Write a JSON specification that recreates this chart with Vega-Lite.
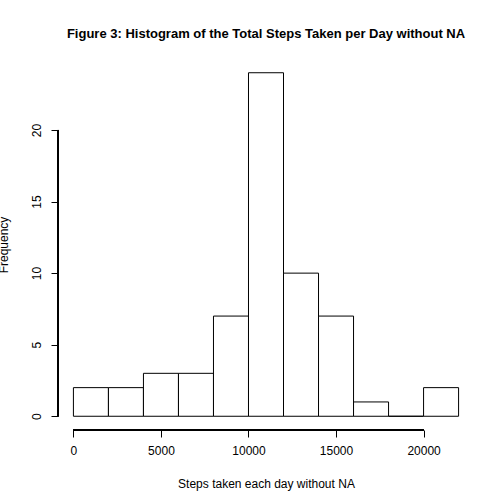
{
  "$schema": "https://vega.github.io/schema/vega-lite/v6.json",
  "autosize": "none",
  "width": 416,
  "height": 371,
  "padding": {"left": 58, "top": 59, "right": 30, "bottom": 74},
  "background": "white",
  "config": {"view": {"stroke": null}, "font": "Liberation Sans"},
  "title": {"text": "Figure 3: Histogram of the Total Steps Taken per Day without NA", "fontSize": 13, "fontWeight": "bold", "color": "black", "offset": 18, "anchor": "middle"},
  "data": {"values": [
    {"start": 0, "end": 2000, "count": 2, "base": 0},
    {"start": 2000, "end": 4000, "count": 2, "base": 0},
    {"start": 4000, "end": 6000, "count": 3, "base": 0},
    {"start": 6000, "end": 8000, "count": 3, "base": 0},
    {"start": 8000, "end": 10000, "count": 7, "base": 0},
    {"start": 10000, "end": 12000, "count": 24, "base": 0},
    {"start": 12000, "end": 14000, "count": 10, "base": 0},
    {"start": 14000, "end": 16000, "count": 7, "base": 0},
    {"start": 16000, "end": 18000, "count": 1, "base": 0},
    {"start": 18000, "end": 20000, "count": 0, "base": 0},
    {"start": 20000, "end": 22000, "count": 2, "base": 0}
  ]},
  "layer": [
    {
      "mark": {"type": "rect", "fill": "white", "stroke": "black", "strokeWidth": 1},
      "encoding": {
        "x": {"field": "start", "type": "quantitative", "scale": {"domain": [-880, 22880], "nice": false, "zero": false},
          "axis": {"values": [0, 5000, 10000, 15000, 20000], "domain": false, "grid": false, "tickColor": "black", "tickSize": 7, "labelColor": "black", "labelFontSize": 12, "labelPadding": 8, "format": "d", "title": "Steps taken each day without NA", "titleFontWeight": "normal", "titleFontSize": 12, "titleColor": "black", "titlePadding": 22}},
        "x2": {"field": "end"},
        "y": {"field": "count", "type": "quantitative", "scale": {"domain": [-0.96, 24.96], "nice": false, "zero": false},
          "axis": {"values": [0, 5, 10, 15, 20], "domain": false, "grid": false, "tickColor": "black", "tickSize": 7, "labelColor": "black", "labelFontSize": 12, "labelAngle": -90, "labelAlign": "center", "labelBaseline": "bottom", "labelPadding": 8, "title": "Frequency", "titleFontWeight": "normal", "titleFontSize": 12, "titleColor": "black", "titlePadding": 20}},
        "y2": {"field": "base"}
      }
    },
    {
      "mark": {"type": "rule", "color": "black"},
      "encoding": {"x": {"datum": 0, "type": "quantitative"}, "x2": {"datum": 20000}, "y": {"datum": -0.96, "type": "quantitative"}}
    },
    {
      "mark": {"type": "rule", "color": "black"},
      "encoding": {"y": {"datum": 0, "type": "quantitative"}, "y2": {"datum": 20}, "x": {"datum": -880, "type": "quantitative"}}
    }
  ]
}
